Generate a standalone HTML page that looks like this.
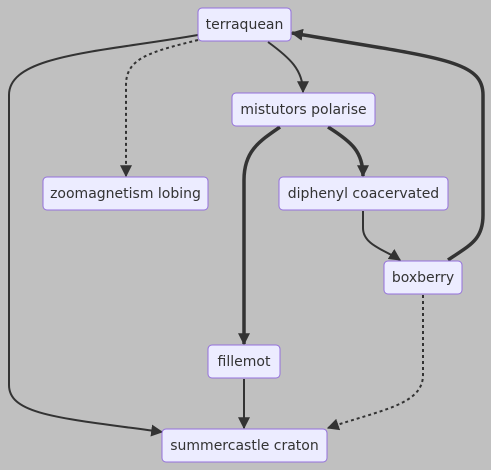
<!DOCTYPE html>
<html><head><meta charset="utf-8"><style>
body{margin:0;background:#c0c0c0;}
svg{display:block;font-family:"DejaVu Sans","Liberation Sans",sans-serif;}
.n rect{fill:#ECECFF;stroke:#9370DB;stroke-width:1;}
.n text{fill:#333;font-size:14px;text-anchor:middle;dominant-baseline:central;}
.e{fill:none;stroke:#333;stroke-width:2;}
.t{stroke-width:3.5;}
.d{stroke-dasharray:3,3;}
</style></head><body>
<svg width="491" height="470" viewBox="0 0 491 470">
<defs><marker id="b" viewBox="0 0 10 10" refX="9" refY="5" markerWidth="12" markerHeight="12" markerUnits="userSpaceOnUse" orient="auto"><path d="M0,0L10,5L0,10z" fill="#333"/></marker></defs>
<path class="e" marker-end="url(#b)" d="M268,42 C290,58 303,70 303,92"/>
<path class="e d" marker-end="url(#b)" d="M198,40 C150,52 126,58 126,85 L126,176"/>
<path class="e" marker-end="url(#b)" d="M198,35 C100,52 9,55 9,95 L9,385 C9,415 60,418 162,432"/>
<path class="e t" marker-end="url(#b)" d="M328,127 C352,142 363,152 363,176"/>
<path class="e t" marker-end="url(#b)" d="M280,127 C258,142 244,152 244,180 L244,344"/>
<path class="e" marker-end="url(#b)" d="M363,211 L363,228 C363,245 385,250 400,260"/>
<path class="e t" marker-end="url(#b)" d="M448,260 C470,245 483,240 483,215 L483,95 C483,60 440,58 292,33"/>
<path class="e d" marker-end="url(#b)" d="M423,295 L423,375 C423,405 380,410 328,428"/>
<path class="e" marker-end="url(#b)" d="M244,379 L244,428"/>
<g class="n"><rect x="198" y="8" width="93" height="33" rx="4"/><text x="244.5" y="25">terraquean</text></g>
<g class="n"><rect x="232" y="93" width="143" height="33" rx="4"/><text x="303.5" y="110">mistutors polarise</text></g>
<g class="n"><rect x="43" y="177" width="165" height="33" rx="4"/><text x="125.5" y="194">zoomagnetism lobing</text></g>
<g class="n"><rect x="279" y="177" width="169" height="33" rx="4"/><text x="363.5" y="194">diphenyl coacervated</text></g>
<g class="n"><rect x="384" y="261" width="78" height="33" rx="4"/><text x="423" y="278">boxberry</text></g>
<g class="n"><rect x="208" y="345" width="72" height="33" rx="4"/><text x="244" y="362">fillemot</text></g>
<g class="n"><rect x="162" y="429" width="165" height="33" rx="4"/><text x="244.5" y="446">summercastle craton</text></g>
</svg>
</body></html>
